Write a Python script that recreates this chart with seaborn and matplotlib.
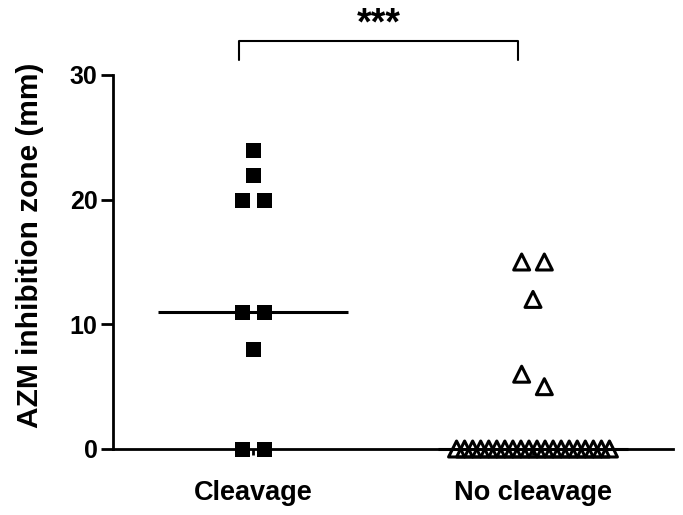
import numpy as np
import pandas as pd
import seaborn as sns
import matplotlib.pyplot as plt

sns.set_style("ticks", {"axes.edgecolor": "black", "text.color": "black",
                        "xtick.color": "black", "ytick.color": "black",
                        "axes.labelcolor": "black"})
plt.rcParams['font.family'] = ['Liberation Sans', 'DejaVu Sans']
plt.rcParams['font.weight'] = 'bold'

# AZM inhibition zone (mm)
groups = ["Cleavage", "No cleavage"]
cleavage = [24, 22, 20, 20, 11, 11, 8, 0, 0]
no_cleavage = [15, 15, 12, 6, 5] + [0] * 20
yticks = [0, 10, 20, 30]
signif = "***"


def spread(values, step=0.081, max_span=0.546, gap=1.1):
    # points that would touch are put side by side (GraphPad style column scatter)
    vals = np.sort(np.asarray(values, float))[::-1]
    offs = np.zeros(len(vals))
    start = 0
    for i in range(1, len(vals) + 1):
        if i == len(vals) or vals[i - 1] - vals[i] > gap:
            n = i - start
            if n > 1:
                d = min(step, max_span / (n - 1))
                offs[start:i] = d * (np.arange(n) - (n - 1) / 2)
            start = i
    return vals, offs


frames = []
for i, (name, vals) in enumerate(zip(groups, [cleavage, no_cleavage])):
    v, o = spread(vals)
    frames.append(pd.DataFrame({"group": name, "x": i + o, "zone": v}))
df = pd.concat(frames, ignore_index=True)

fig, ax = plt.subplots(figsize=(6.83, 5.15), dpi=100)
fig.subplots_adjust(left=113 / 683, right=673 / 683, bottom=66 / 515, top=1 - 75 / 515)

sns.scatterplot(data=df[df.group == groups[0]], x="x", y="zone", marker="s", s=10.8 ** 2,
                color="black", linewidth=0, clip_on=False, zorder=3, ax=ax)
sns.scatterplot(data=df[df.group == groups[1]], x="x", y="zone", marker="^", s=11.5 ** 2,
                facecolors="none", edgecolor="black", linewidth=2.2, clip_on=False,
                zorder=3, ax=ax)

# median lines
for i, vals in enumerate([cleavage, no_cleavage]):
    ax.hlines(np.median(vals), i - 0.34, i + 0.34, color="black", lw=2.2,
              zorder=4, clip_on=False)

ax.set_xlim(-0.5, 1.5)
ax.set_ylim(0, 30)
ax.set_xticks(range(len(groups)), groups)
ax.set_yticks(yticks)
ax.set_xlabel("")
ax.set_ylabel("AZM inhibition zone (mm)", fontsize=21.5, fontweight="bold")
ax.yaxis.set_label_coords(-0.124, 0.545)
sns.despine(ax=ax)
for side in ["left", "bottom"]:
    ax.spines[side].set_linewidth(2)
ax.tick_params(axis="y", length=9, width=2, pad=2, labelsize=18)
ax.tick_params(axis="x", length=4, width=2, pad=18, labelsize=19.5)

# significance bracket
x0, x1 = -0.05, 0.946
ax.plot([x0, x0, x1, x1], [31.2, 32.7, 32.7, 31.2], color="black", lw=1.5, clip_on=False)
ax.text((x0 + x1) / 2, 32.6, signif, ha="center", va="bottom", fontsize=27,
        fontweight="bold")

fig.savefig("out.png", dpi=100)
